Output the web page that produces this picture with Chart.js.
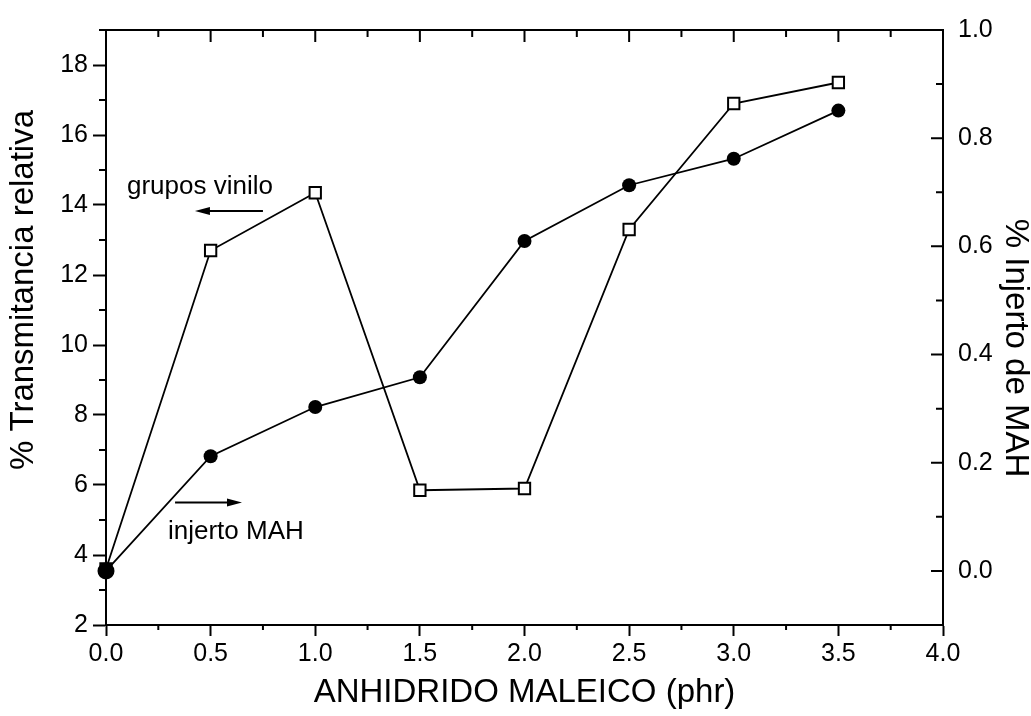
<!DOCTYPE html>
<html>
<head>
<meta charset="utf-8">
<script src="https://cdn.jsdelivr.net/npm/chart.js@4/dist/chart.umd.min.js"></script>
<style>
  html, body { margin: 0; padding: 0; background: #fff; }
  #wrap { width: 1031px; height: 716px; position: relative; }
</style>
</head>
<body>
<div id="wrap"><canvas id="chart"></canvas></div>
<script>
// anhidrido maleico (phr)
const phr = [0, 0.5, 1.0, 1.5, 2.0, 2.5, 3.0, 3.5];
// % transmitancia relativa (grupos vinilo) - eje izquierdo
const vinilo = [3.6, 12.7, 14.35, 5.85, 5.9, 13.3, 16.9, 17.5];
// % injerto de MAH - eje derecho
const injerto = [0.0, 0.212, 0.303, 0.358, 0.61, 0.713, 0.762, 0.851];

const xTitle = 'ANHIDRIDO MALEICO (phr)';
const yTitle = '% Transmitancia relativa';
const y2Title = '% Injerto de MAH';

const family = "'Liberation Sans', Arial, Helvetica, sans-serif";

// texts with arrows, placed in data units (x, left axis)
const notes = [
  { text: 'grupos vinilo', x: 0.10, y: 14.31, from: 0.75, to: 0.425, ay: 13.83 },
  { text: 'injerto MAH', x: 0.296, y: 4.45, from: 0.33, to: 0.65, ay: 5.50 }
];

function minors(scale) {
  const vals = scale.ticks.map(t => t.value);
  const step = vals[1] - vals[0];
  const out = [];
  vals.forEach(v => {
    [v - step / 2, v + step / 2].forEach(m => {
      if (m >= scale.min - 1e-9 && m <= scale.max + 1e-9 && !out.some(o => Math.abs(o - m) < 1e-9)) out.push(m);
    });
  });
  return out;
}

function arrow(ctx, x1, x2, y) {
  const dir = Math.sign(x2 - x1);
  ctx.beginPath();
  ctx.moveTo(x1, y);
  ctx.lineTo(x2 - dir * 8, y);
  ctx.stroke();
  ctx.beginPath();
  ctx.moveTo(x2, y);
  ctx.lineTo(x2 - dir * 15, y - 4);
  ctx.lineTo(x2 - dir * 15, y + 4);
  ctx.closePath();
  ctx.fill();
}

const frame = {
  id: 'frame',
  afterDraw(chart) {
    const { ctx, chartArea: a } = chart;
    const { x, y, y2 } = chart.scales;
    ctx.save();
    ctx.strokeStyle = '#000';
    ctx.fillStyle = '#000';
    ctx.lineWidth = 2;

    // top border
    ctx.beginPath();
    ctx.moveTo(a.left - 1, a.top);
    ctx.lineTo(a.right + 1, a.top);
    ctx.stroke();

    ctx.beginPath();
    // top: inward ticks
    x.ticks.forEach(t => { const px = x.getPixelForValue(t.value); ctx.moveTo(px, a.top); ctx.lineTo(px, a.top + 12); });
    minors(x).forEach(v => { const px = x.getPixelForValue(v); ctx.moveTo(px, a.top); ctx.lineTo(px, a.top + 7); });
    // bottom: outward minor ticks
    minors(x).forEach(v => { const px = x.getPixelForValue(v); ctx.moveTo(px, a.bottom); ctx.lineTo(px, a.bottom + 5); });
    // left: outward minor ticks
    minors(y).forEach(v => { const py = y.getPixelForValue(v); ctx.moveTo(a.left, py); ctx.lineTo(a.left - 7, py); });
    // right: inward ticks
    y2.ticks.forEach(t => { const py = y2.getPixelForValue(t.value); ctx.moveTo(a.right, py); ctx.lineTo(a.right - 12, py); });
    minors(y2).forEach(v => { const py = y2.getPixelForValue(v); ctx.moveTo(a.right, py); ctx.lineTo(a.right - 7, py); });
    ctx.stroke();

    // axis titles (vertical)
    ctx.font = `33px ${family}`;
    ctx.textAlign = 'center';
    ctx.textBaseline = 'middle';
    ctx.save();
    ctx.translate(24, 290);
    ctx.rotate(-Math.PI / 2);
    ctx.fillText(yTitle, 0, 0);
    ctx.restore();
    ctx.save();
    ctx.translate(1015, 348);
    ctx.rotate(Math.PI / 2);
    ctx.fillText(y2Title, 0, 0);
    ctx.restore();

    // notes
    ctx.font = `26px ${family}`;
    ctx.textAlign = 'left';
    ctx.textBaseline = 'alphabetic';
    ctx.lineWidth = 2;
    notes.forEach(n => {
      ctx.fillText(n.text, x.getPixelForValue(n.x), y.getPixelForValue(n.y));
      arrow(ctx, x.getPixelForValue(n.from), x.getPixelForValue(n.to), y.getPixelForValue(n.ay));
    });
    ctx.restore();
  }
};

new Chart(document.getElementById('chart'), {
  type: 'scatter',
  data: {
    datasets: [
      {
        label: 'injerto MAH',
        data: phr.map((v, i) => ({ x: v, y: injerto[i] })),
        yAxisID: 'y2',
        showLine: true,
        borderColor: '#000',
        borderWidth: 1.8,
        pointStyle: 'circle',
        // first dot is drawn bigger, it hides the square under it
        pointRadius: ctx => ctx.dataIndex === 0 ? 8.5 : 7,
        pointBackgroundColor: '#000',
        pointBorderColor: '#000',
        pointBorderWidth: 0,
        clip: false
      },
      {
        label: 'grupos vinilo',
        data: phr.map((v, i) => ({ x: v, y: vinilo[i] })),
        yAxisID: 'y',
        showLine: true,
        borderColor: '#000',
        borderWidth: 1.8,
        pointStyle: 'rect',
        pointRadius: 8,
        pointBackgroundColor: '#fff',
        pointBorderColor: '#000',
        pointBorderWidth: 2,
        clip: false
      }
    ]
  },
  options: {
    responsive: true,
    maintainAspectRatio: false,
    animation: false,
    events: [],
    layout: { padding: { top: 20, left: 0, right: 0, bottom: 0 } },
    plugins: { legend: { display: false }, tooltip: { enabled: false } },
    scales: {
      x: {
        type: 'linear',
        position: 'bottom',
        min: 0,
        max: 4,
        ticks: { stepSize: 0.5, autoSkip: false, maxRotation: 0, padding: 3, color: '#000',
                 font: { family: family, size: 25 }, callback: v => v.toFixed(1) },
        grid: { drawOnChartArea: false, tickLength: 11, tickColor: '#000', tickWidth: 2 },
        border: { color: '#000', width: 2 },
        title: { display: true, text: xTitle, color: '#000', font: { family: family, size: 33 },
                 padding: { top: 0, bottom: 3 } },
        afterFit(s) { s.height = 91; }
      },
      y: {
        type: 'linear',
        position: 'left',
        min: 2,
        max: 19,
        ticks: { stepSize: 2, includeBounds: false, padding: 5, color: '#000',
                 font: { family: family, size: 25 } },
        grid: { drawOnChartArea: false, tickLength: 13, tickColor: '#000', tickWidth: 2 },
        border: { color: '#000', width: 2 },
        afterFit(s) { s.width = 106; }
      },
      y2: {
        type: 'linear',
        position: 'right',
        min: -0.1,
        max: 1.0,
        ticks: { stepSize: 0.2, includeBounds: false, padding: 15, color: '#000',
                 font: { family: family, size: 25 }, callback: v => v.toFixed(1) },
        grid: { display: false, drawTicks: false },
        border: { display: true, color: '#000', width: 2 },
        afterFit(s) { s.width = 88; }
      }
    }
  },
  plugins: [frame]
});
</script>
</body>
</html>
